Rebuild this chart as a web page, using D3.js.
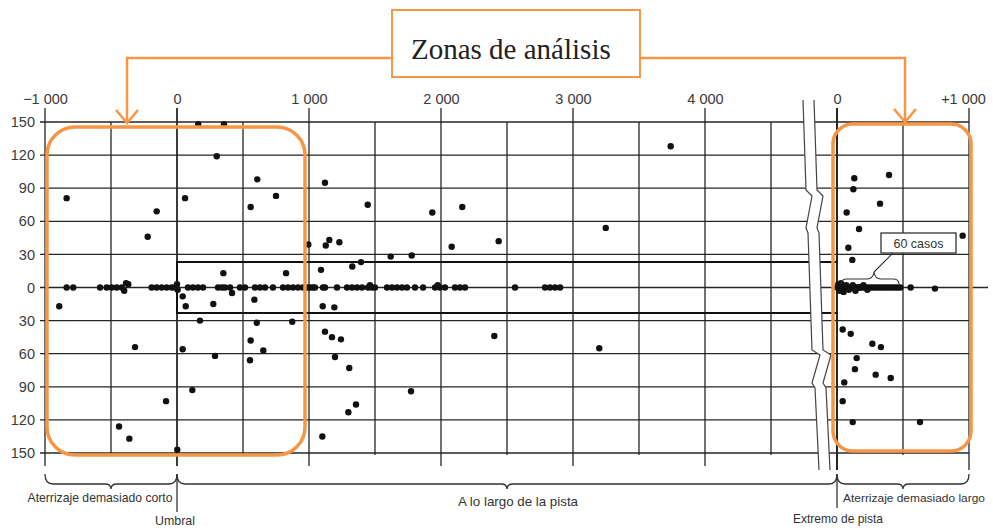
<!DOCTYPE html>
<html>
<head>
<meta charset="utf-8">
<script src="https://cdn.jsdelivr.net/npm/d3@7"></script>
<style>
  body { margin: 0; background: #fff; }
  svg { display: block; }
  .narrow { font-family: "Liberation Sans", Arial, sans-serif; }
</style>
</head>
<body>
<svg id="chart" width="993" height="528"></svg>
<script>
// tick values / labels
var xTicksLeft = [-1000, 0, 1000, 2000, 3000, 4000];
var xTickLabelsLeft = ["\u22121 000", "0", "1 000", "2 000", "3 000", "4 000"];
var xGridLeft = [-1000, -500, 0, 500, 1000, 1500, 2000, 2500, 3000, 3500, 4000, 4500];
var xTicksRight = [0, 1000];
var xTickLabelsRight = ["0", "+1 000"];
var xGridRight = [0, 500, 1000];
var yTicks = [150, 120, 90, 60, 30, 0, -30, -60, -90, -120, -150];
var yTickLabels = ["150", "120", "90", "60", "30", "0", "30", "60", "90", "120", "150"];

// landings measured from the threshold (x, m) and from the centreline (y, m)
var pointsX = [-836, -154, -222, 61, 161, 356, 301, 608, 750, 558, 1121, 995, 1127, 1154, 1230,
  351, 826, 1091, 1445, 1934, 2161, 3248, 2081, 2437, 1619, 1778, 1328, 1394, 3740,
  -892, 43, 66, 275, 417, 586, 174, 604, 873, 558, 654, 43, 288, 553, -318, 116, -83,
  -439, -361, 2, 1101, 1104, 1192, 1121, 1174, 1242, 1197, 1305, 1356, 1298, 1773, 2404, 3199];
var pointsY = [81, 69, 46, 81, 148, 148, 119, 98, 83, 73, 95, 39, 38, 43, 41,
  13, 13, 16, 75, 68, 73, 54, 37, 42, 28, 29, 19, 23, 128,
  -17, -8, -17, -15, -5, -11, -30, -32, -31, -48, -57, -56, -62, -66, -54, -93, -103,
  -126, -137, -147, -135, -17, -18, -40, -45, -47, -63, -73, -106, -113, -94, -44, -55];

// landings on the centreline
var centreX = [-836, -786, -583, -533, -495, -457, -419, -386, -369, -400, -192, -154, -116, -78, -40, -15, 0, 5,
  83, 121, 159, 197, 311, 341, 364, 402, 477, 515, 591, 629, 667, 727, 803, 841, 879, 917, 955,
  985, 1008, 1030, 1045, 1106, 1121, 1212, 1288, 1326, 1364, 1402, 1447, 1462, 1477, 1500,
  1591, 1629, 1667, 1705, 1742, 1803, 1864, 1955, 1975, 1992, 2030, 2106, 2144, 2182,
  2561, 2788, 2826, 2864, 2902];
var centreY = [0, 0, 0, 0, 0, 0, 0, 4, 3, -3, 0, 0, 0, 0, 0, 0, 3, -2,
  0, 0, 0, 0, 0, 0, 0, 0, 0, 0, 0, 0, 0, 0, 0, 0, 0, 0, 0,
  0, 0, 0, 0, 0, 0, 0, 0, 0, 0, 0, 0, 2, 0, 0,
  0, 0, 0, 0, 0, 0, 0, 0, 2, 0, 0, 0, 0, 0,
  0, 0, 0, 0, 0];

// landings past the runway end (x from the end of the runway)
var overX = [131, 394, 124, 326, 73, 167, 86, 116, 952, 43, 104, 268, 333, 149, 136, 293, 407, 55, 43, 119, 629];
var overY = [99, 102, 89, 76, 68, 53, 36, 25, 47, -38, -42, -51, -54, -64, -74, -79, -82, -86, -103, -122, -122];
var overCentreX = [2, 6, 10, 14, 18, 22, 26, 30, 34, 38, 42, 46, 50, 55, 60, 65, 70, 75, 80, 90, 100, 110, 120,
  130, 140, 150, 160, 170, 180, 200, 220, 240, 260, 280, 300, 320, 340, 360, 380, 400, 420, 440, 460, 480,
  10, 20, 30, 50, 70, 90, 120, 140, 200, 230, 558, 742];
var overCentreY = [0, 0, 0, 0, 0, 0, 0, 0, 0, 0, 0, 0, 0, 0, 0, 0, 0, 0, 0, 0, 0, 0, 0,
  0, 0, 0, 0, 0, 0, 0, 0, 0, 0, 0, 0, 0, 0, 0, 0, 0, 0, 0, 0, 0,
  3, -3, 4, -4, 2, -2, 2, -3, 2, -2, 0, -1];

var bandHalf = 23; // +-75 ft box

var orange = "#F79646", ink = "#262626";
var svg = d3.select("#chart");

var xL = d3.scaleLinear().domain([-1000, 4000]).range([45, 705]);
var xR = d3.scaleLinear().domain([0, 1000]).range([837, 969]);
var y = d3.scaleLinear().domain([-150, 150]).range([453, 122]);

var grid = svg.append("g").attr("class", "grid");

// horizontal lines, cut later by the break
grid.selectAll("line.h")
  .data(yTicks)
  .enter().append("line")
  .attr("x1", 40)
  .attr("x2", function(d) { return d === 0 ? 988 : xR(1000); })
  .attr("y1", function(d) { return y(d); })
  .attr("y2", function(d) { return y(d); })
  .attr("stroke", ink)
  .attr("stroke-width", function(d) { return d === 0 ? 1.4 : 1.3; });

// vertical lines left side
grid.selectAll("line.vl")
  .data(xGridLeft)
  .enter().append("line")
  .attr("x1", function(d) { return xL(d); })
  .attr("x2", function(d) { return xL(d); })
  .attr("y1", function(d) { return d % 1000 === 0 ? 108 : y(150); })
  .attr("y2", function(d) { return d % 1000 === 0 ? 466 : y(-150) + 2; })
  .attr("stroke", ink)
  .attr("stroke-width", function(d) { return d === 0 ? 1.8 : 1.3; });

// vertical lines right side
grid.selectAll("line.vr")
  .data(xGridRight)
  .enter().append("line")
  .attr("x1", function(d) { return xR(d); })
  .attr("x2", function(d) { return xR(d); })
  .attr("y1", function(d) { return d === 500 ? y(150) : 108; })
  .attr("y2", function(d) { return d === 500 ? y(-150) + 2 : 470; })
  .attr("stroke", ink)
  .attr("stroke-width", function(d) { return d === 0 ? 2 : 1.3; });

// runway band
svg.append("path")
  .attr("d", "M" + xR(0) + "," + y(bandHalf) + "H" + xL(0) + "V" + y(-bandHalf) + "H" + xR(0))
  .attr("fill", "none")
  .attr("stroke", "#111")
  .attr("stroke-width", 2);

// break between the two panels
var breakA = [[803, 100], [806, 190], [812, 196], [806, 228], [808, 233], [812, 350], [820, 355], [812, 383], [815, 388], [819, 470]];
var breakB = breakA.map(function(p) { return [p[0] + 11, p[1]]; });
svg.append("path")
  .attr("d", d3.line()(breakA.concat(breakB.slice().reverse())) + "Z")
  .attr("fill", "#fff");
[breakA, breakB].forEach(function(pts) {
  svg.append("path")
    .attr("d", d3.line()(pts))
    .attr("fill", "none")
    .attr("stroke", "#444")
    .attr("stroke-width", 1.2);
});

// axes
var axTop = svg.append("g").attr("class", "narrow").attr("transform", "translate(0,107)")
  .call(d3.axisTop(xL).tickValues(xTicksLeft).tickSize(0).tickPadding(3)
    .tickFormat(function(d, i) { return xTickLabelsLeft[i]; }));
var axTopR = svg.append("g").attr("class", "narrow").attr("transform", "translate(0,107)")
  .call(d3.axisTop(xR).tickValues(xTicksRight).tickSize(0).tickPadding(3)
    .tickFormat(function(d, i) { return xTickLabelsRight[i]; }));
var axLeft = svg.append("g").attr("class", "narrow").attr("transform", "translate(36,0)")
  .call(d3.axisLeft(y).tickValues(yTicks).tickSize(0).tickPadding(1)
    .tickFormat(function(d, i) { return yTickLabels[i]; }));
[axTop, axTopR, axLeft].forEach(function(g) {
  g.select(".domain").remove();
  g.selectAll("text").attr("font-size", 14.5).attr("fill", "#3a3a3a")
    .attr("font-family", null);
});
axTopR.selectAll("text").attr("dx", function(d) { return d === 1000 ? -6 : 0; });

// dots
var dots = svg.append("g").attr("fill", "#111");
dots.selectAll("circle.a")
  .data(d3.zip(pointsX, pointsY).concat(d3.zip(centreX, centreY)))
  .enter().append("circle")
  .attr("cx", function(d) { return xL(d[0]); })
  .attr("cy", function(d) { return y(d[1]); })
  .attr("r", 3.2);
dots.selectAll("circle.b")
  .data(d3.zip(overX, overY).concat(d3.zip(overCentreX, overCentreY)))
  .enter().append("circle")
  .attr("cx", function(d) { return xR(d[0]); })
  .attr("cy", function(d) { return y(d[1]); })
  .attr("r", 3.2);

// "60 casos" call-out
svg.append("path")
  .attr("d", "M841,284 Q841,279 847,279 L867,279 Q873,279 874,272 Q875,279 881,279 L893,279 Q899,279 899,284 M874,272 L893,253")
  .attr("fill", "none").attr("stroke", "#333").attr("stroke-width", 1.1);
svg.append("rect")
  .attr("x", 881).attr("y", 233).attr("width", 75).attr("height", 20)
  .attr("fill", "#fff").attr("stroke", "#333").attr("stroke-width", 1.3);
svg.append("text").attr("class", "narrow")
  .attr("x", 918.5).attr("y", 248).attr("text-anchor", "middle")
  .attr("font-size", 13).attr("fill", "#333")
  .attr("textLength", 50).attr("lengthAdjust", "spacingAndGlyphs")
  .text("60 casos");

// bottom braces and labels
function brace(x0, x1, yb) {
  var m = (x0 + x1) / 2;
  return "M" + x0 + "," + (yb - 10) + " Q" + x0 + "," + yb + " " + (x0 + 8) + "," + yb +
    " L" + (m - 6) + "," + yb + " Q" + m + "," + yb + " " + m + "," + (yb + 5) +
    " Q" + m + "," + yb + " " + (m + 6) + "," + yb +
    " L" + (x1 - 8) + "," + yb + " Q" + x1 + "," + yb + " " + x1 + "," + (yb - 10);
}
var notes = svg.append("g").attr("stroke", "#333").attr("fill", "none").attr("stroke-width", 1.3);
notes.append("path").attr("d", brace(xL(-1000), xL(0), 484));
notes.append("path").attr("d", brace(xL(0), xR(0), 484));
notes.append("path").attr("d", brace(xR(0), xR(1000), 484));
notes.append("line").attr("x1", xL(0)).attr("x2", xL(0)).attr("y1", 474).attr("y2", 512);
notes.append("line").attr("x1", xR(0)).attr("x2", xR(0)).attr("y1", 474).attr("y2", 508);

var labels = [
  { t: "Aterrizaje demasiado corto", x: 100, y: 502, w: 145, s: 13 },
  { t: "A lo largo de la pista", x: 518, y: 506, w: 120, s: 13 },
  { t: "Aterrizaje demasiado largo", x: 914, y: 502, w: 142, s: 11.5 },
  { t: "Umbral", x: 175, y: 525, w: 40, s: 13 },
  { t: "Extremo de pista", x: 838, y: 523, w: 90, s: 13 }
];
svg.selectAll("text.note")
  .data(labels)
  .enter().append("text")
  .attr("class", "narrow")
  .attr("x", function(d) { return d.x; })
  .attr("y", function(d) { return d.y; })
  .attr("text-anchor", "middle")
  .attr("font-size", function(d) { return d.s; })
  .attr("fill", "#333")
  .attr("textLength", function(d) { return d.w; })
  .attr("lengthAdjust", "spacingAndGlyphs")
  .text(function(d) { return d.t; });

// orange analysis zones
var zones = svg.append("g").attr("fill", "none").attr("stroke", orange);
zones.append("rect").attr("x", 47).attr("y", 127).attr("width", 258).attr("height", 328)
  .attr("rx", 28).attr("stroke-width", 3.5);
zones.append("rect").attr("x", 833).attr("y", 124).attr("width", 138).attr("height", 327)
  .attr("rx", 20).attr("stroke-width", 3.5);
zones.append("path").attr("d", "M392,58 H127 V123 M116,110 L127,123 L138,110").attr("stroke-width", 2.5);
zones.append("path").attr("d", "M640,58 H905 V122 M894,109 L905,122 L916,109").attr("stroke-width", 2.5);
svg.append("rect").attr("x", 392).attr("y", 10).attr("width", 248).attr("height", 67)
  .attr("fill", "#fff").attr("stroke", orange).attr("stroke-width", 2);
svg.append("text")
  .attr("x", 411).attr("y", 59)
  .attr("font-family", "'Liberation Serif', 'Times New Roman', serif")
  .attr("font-size", 29).attr("fill", "#222")
  .text("Zonas de análisis");
</script>
</body>
</html>
